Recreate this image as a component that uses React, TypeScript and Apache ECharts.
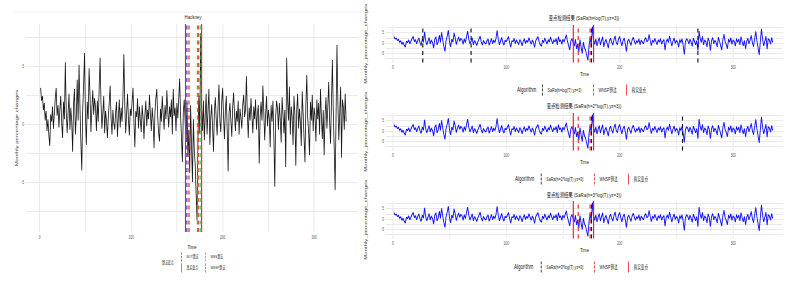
import React, { useEffect, useRef } from "react";
import * as echarts from "echarts";

// horizontal squeeze of the original figure
const SX = 0.7;
const W = 791 / SX;
const H = 283;
const sx = (px: number) => px / SX;

// Hackney monthly percentage changes, t = 1..335
const hackney: number[] = [
  3.1, 2.0, 2.4, 1.2, 1.8, 0.3, 1.1, -0.6, 0.4, -1.0,
  -1.9, 0.8, 0.2, 1.5, -0.4, 0.9, 2.2, 3.1, 0.7, 1.6,
  -0.3, 1.2, 2.4, 0.1, -1.2, 1.9, 0.4, 5.3, 1.1, -0.8,
  0.9, 2.6, -0.5, 1.4, 0.2, -2.4, 1.7, 3.0, -0.9, 0.6,
  3.8, 0.3, 5.1, 1.5, -1.6, -4.0, 1.2, 3.4, 6.1, 0.6,
  -1.8, 1.9, 0.4, 4.8, 2.5, -0.7, 1.3, 2.9, 0.8, 2.2,
  1.5, -0.6, 2.0, 0.2, 3.1, 5.7, 1.8, -0.4, 0.9, 2.4,
  -0.8, 1.1, 0.3, -1.2, 0.6, 1.8, 3.3, 0.5, -0.9, 1.2,
  0.1, -0.5, 1.0, 1.9, -1.1, 0.6, 2.1, -0.3, 1.4, 0.2,
  2.3, 6.0, 1.7, -0.8, 0.9, 2.6, 0.4, -1.0, 1.3, 0.7,
  1.9, 3.1, 0.2, -2.0, 1.1, 0.6, 2.2, -0.4, 1.5, 0.3,
  -0.7, 1.6, 0.5, -1.3, 0.8, 2.0, -0.2, 1.2, 0.4, 2.5,
  0.9, -0.6, 1.4, 0.3, -2.1, 1.0, 2.2, 3.0, 0.6, -0.8,
  -1.5, 1.3, 0.2, 2.4, 0.8, -0.5, 1.6, 0.4, 2.9, 1.1,
  -0.3, 1.5, 0.6, 2.1, -0.9, 3.0, 0.7, 1.4, -0.6, 1.8,
  0.5, 2.2, 3.9, 0.8, -1.2, -3.3, 1.0, 2.1, 0.3, -1.5,
  1.8, -2.8, -0.5, -4.2, 1.6, -1.9, -5.0, 0.4, -2.3, -3.5,
  -6.0, -8.3, -1.2, 2.4, -0.8, 7.8, 1.5, -0.6, 2.0, -1.4,
  0.8, 2.6, -0.9, 1.2, 3.0, -1.8, 0.5, 1.7, -0.3, -2.4,
  1.1, 2.3, 0.4, -1.0, 1.6, 3.4, 0.2, -0.7, 1.9, 3.1,
  0.6, -1.3, 1.2, 2.4, -0.5, -4.1, 0.9, 1.8, 0.3, -1.1,
  1.5, 2.7, 0.8, -0.6, 1.1, 0.2, 2.0, -0.9, 1.3, 0.5,
  -0.4, 1.7, 2.5, 0.6, 1.2, 4.1, 0.9, -1.2, 1.4, 0.3,
  2.2, 0.7, -0.8, 1.5, 0.4, 2.1, -0.5, 0.9, 1.6, -3.4,
  0.6, 1.9, 0.3, 3.3, 1.0, -1.4, 0.8, 2.4, -0.2, 1.2,
  0.5, -2.0, 1.6, 0.2, 2.0, -1.1, -5.4, 0.7, 2.0, 1.3,
  -0.5, 1.8, 0.4, -1.6, 2.3, 0.9, -0.8, 1.2, -3.7, 5.7,
  2.1, 0.3, 3.2, -0.9, 1.5, 0.6, -1.8, 2.4, 0.8, -3.6,
  1.1, 2.6, -0.4, 1.3, 0.2, -1.9, 2.8, 0.9, -1.2, -3.3,
  1.6, 4.2, 0.5, -0.7, -2.7, 1.9, 0.3, 2.5, -0.6, 1.4,
  0.7, -1.5, 2.1, 0.4, 1.8, -0.9, 3.0, 0.6, -1.3, 1.2,
  -2.7, 0.8, 2.3, -0.4, 1.5, 3.6, 0.2, -1.7, 2.0, 5.5,
  1.0, -2.2, -5.7, 0.6, 6.8, 1.9, -1.4, 0.9, 3.2, -2.9,
  2.1, 1.4, -0.5, 2.6, 0.2,
];

// change points (time index)
const trueCP = [159, 177];
const notCP = [161];
const wbsCP = [172, 176];
const wnspCP = [163, 174];
const saraCP = [[26, 69, 175, 269], [175, 255], [175]];
const saraNames = ["SaRa(h=log(T),yz=3)", "SaRa(h=2*log(T),yz=3)", "SaRa(h=3*log(T),yz=3)"];
const panelTitles = saraNames.map((n) => `变点检测结果 (${n})`);

// axis ticks
const xTickLabels = [0, 100, 200, 300];
const xGridValues = [0, 50, 100, 150, 200, 250, 300];
const yTickLabels = [-5, 0, 5];
const yGridValues = [-7.5, -5, -2.5, 0, 2.5, 5, 7.5];

const FONT = '"Liberation Sans", "Noto Sans CJK SC", sans-serif';
const RED = "#ee1c1c";
const BLUE = "#2a2af0";
const GREEN = "#22c032";
const BLACK = "#111111";

const DASH_ICON = "path://M0,0h1v2.6h-1z M0,3.7h1v2.6h-1z M0,7.4h1v2.6h-1z";
const SOLID_ICON = "path://M0,0h1v10h-1z";

export default function App() {
  const ref = useRef<HTMLDivElement>(null);

  useEffect(() => {
    if (!ref.current) return;
    const chart = echarts.init(ref.current, undefined, { renderer: "svg" });

    const seriesData = hackney.map((v, i) => [i + 1, v]);

    const grids = [
      { left: sx(26), top: 24, width: sx(358) - sx(26), height: 208 },
      { left: sx(386), top: 25, width: sx(783) - sx(386), height: 37.5 },
      { left: sx(386), top: 113, width: sx(783) - sx(386), height: 37.5 },
      { left: sx(386), top: 201, width: sx(783) - sx(386), height: 37.5 },
    ];

    const gridLine = { show: true, lineStyle: { color: "#e6e6e6", width: 1 } };

    const xAxes = grids.map((_, i) => ({
      type: "value",
      gridIndex: i,
      min: i === 0 ? -15 : -6,
      max: i === 0 ? 348 : 344,
      axisLine: { show: false },
      axisTick: { show: false, customValues: xGridValues },
      axisLabel: {
        customValues: xTickLabels,
        fontSize: 4.6,
        color: "#555",
        margin: 2.5,
        fontFamily: FONT,
      },
      splitLine: gridLine,
      name: "Time",
      nameLocation: "middle",
      nameGap: 8,
      nameTextStyle: { fontSize: 6, color: "#222", fontFamily: FONT },
    }));

    const yAxes = grids.map((_, i) => ({
      type: "value",
      gridIndex: i,
      min: -9.3,
      max: 8.6,
      axisLine: { show: false },
      axisTick: { show: false, customValues: yGridValues },
      axisLabel: {
        customValues: yTickLabels,
        fontSize: 4.6,
        color: "#555",
        margin: 2.8,
        fontFamily: FONT,
      },
      splitLine: gridLine,
      name: i === 0 ? "Monthly percentage changes" : "Monthly_percentage_changes",
      nameLocation: "middle",
      nameGap: i === 0 ? 8 : 27,
      nameTextStyle: { fontSize: 6, color: "#333", fontFamily: FONT },
    }));

    const vline = (
      name: string,
      positions: number[],
      color: string,
      dashed: boolean,
      idx: number
    ) => ({
      type: "line",
      name,
      data: [],
      xAxisIndex: idx,
      yAxisIndex: idx,
      color,
      itemStyle: { color },
      lineStyle: { color },
      silent: true,
      z: 5,
      markLine: {
        silent: true,
        symbol: ["none", "none"],
        label: { show: false },
        lineStyle: { color, width: 1.6, type: dashed ? [4, 3.5] : "solid" },
        emphasis: { disabled: true },
        data: positions.map((p) => ({ xAxis: p })),
      },
    });

    const series: any[] = [
      {
        type: "line",
        name: "Hackney",
        data: seriesData,
        xAxisIndex: 0,
        yAxisIndex: 0,
        showSymbol: false,
        silent: true,
        z: 3,
        lineStyle: { color: "#1a1a1a", width: 1.15 },
      },
      vline("真实变点", trueCP, RED, false, 0),
      vline("NOT算法", notCP, BLUE, true, 0),
      vline("WBS算法", wbsCP, GREEN, true, 0),
      vline("WNSP算法", wnspCP, RED, true, 0),
    ];

    [1, 2, 3].forEach((idx) => {
      series.push({
        type: "line",
        name: "series" + idx,
        data: seriesData,
        xAxisIndex: idx,
        yAxisIndex: idx,
        showSymbol: false,
        silent: true,
        z: 3,
        lineStyle: { color: "#1414ff", width: 1.3 },
      });
      series.push(vline(saraNames[idx - 1], saraCP[idx - 1], BLACK, true, idx));
      series.push(vline("WNSP算法", wnspCP, RED, true, idx));
      series.push(vline("真实变点", trueCP, RED, false, idx));
    });

    const leg = (
      name: string,
      keyX: number,
      rowY: number,
      fontSize: number,
      dashed: boolean,
      ih: number
    ) => {
      const iw = 2.6;
      return {
        show: true,
        selectedMode: false,
        orient: "horizontal",
        left: sx(keyX) - iw / 2,
        top: rowY - ih / 2,
        itemWidth: iw,
        itemHeight: ih,
        itemGap: 0,
        padding: 0,
        itemStyle: { borderWidth: 0 },
        lineStyle: { width: 0 },
        data: [{ name, icon: dashed ? DASH_ICON : SOLID_ICON }],
        textStyle: { fontSize, color: "#222", fontFamily: FONT, padding: [0, 0, 0, 1] },
      };
    };

    const legends: any[] = [
      leg("NOT算法", 182, 257, 4.2, true, 9),
      leg("WBS算法", 206, 257, 4.2, true, 9),
      leg("真实变点", 182, 268, 4.2, false, 9),
      leg("WNSP算法", 206, 268, 4.2, true, 9),
    ];
    const rightLegY = [90, 179, 267];
    const saraKeyX = [543, 541.7, 541.7];
    const wnspKeyX = [594, 595, 595];
    const trueKeyX = [627, 629, 629];
    [0, 1, 2].forEach((p) => {
      legends.push(leg(saraNames[p], saraKeyX[p], rightLegY[p], 5.2, true, 11));
      legends.push(leg("WNSP算法", wnspKeyX[p], rightLegY[p], 5.2, true, 11));
      legends.push(leg("真实变点", trueKeyX[p], rightLegY[p], 5.2, false, 11));
    });

    const algX = [517, 515, 514];
    const graphic: any[] = [
      {
        type: "line",
        silent: true,
        shape: { x1: sx(15), y1: 12, x2: sx(360), y2: 12 },
        style: { stroke: "#ececec", lineWidth: 1 },
      },
      {
        type: "text",
        silent: true,
        x: sx(193),
        y: 17,
        style: {
          text: "Hackney",
          fontSize: 6.2,
          fill: "#222",
          fontFamily: FONT,
          align: "center",
          verticalAlign: "middle",
        },
      },
      {
        type: "text",
        silent: true,
        x: sx(162),
        y: 263,
        style: {
          text: "算法变点",
          fontSize: 4.2,
          fill: "#222",
          fontFamily: FONT,
          align: "left",
          verticalAlign: "middle",
        },
      },
    ];
    [0, 1, 2].forEach((p) => {
      graphic.push({
        type: "text",
        silent: true,
        x: sx(584),
        y: [18, 106, 195][p],
        style: {
          text: panelTitles[p],
          fontSize: 6.2,
          fill: "#222",
          fontFamily: FONT,
          align: "center",
          verticalAlign: "middle",
        },
      });
      graphic.push({
        type: "text",
        silent: true,
        x: sx(algX[p]),
        y: rightLegY[p],
        style: {
          text: "Algorithm",
          fontSize: 6.5,
          fill: "#222",
          fontFamily: FONT,
          align: "left",
          verticalAlign: "middle",
        },
      });
    });

    chart.setOption({
      animation: false,
      backgroundColor: "#ffffff",
      textStyle: { fontFamily: FONT },
      grid: grids,
      xAxis: xAxes,
      yAxis: yAxes,
      legend: legends,
      series,
      graphic,
    });

    return () => chart.dispose();
  }, []);

  return (
    <div
      style={{
        position: "fixed",
        left: 0,
        top: 0,
        width: 791,
        height: 283,
        overflow: "hidden",
        background: "#fff",
      }}
    >
      <div
        ref={ref}
        style={{
          width: W,
          height: H,
          transform: `scaleX(${SX})`,
          transformOrigin: "0 0",
        }}
      />
    </div>
  );
}
